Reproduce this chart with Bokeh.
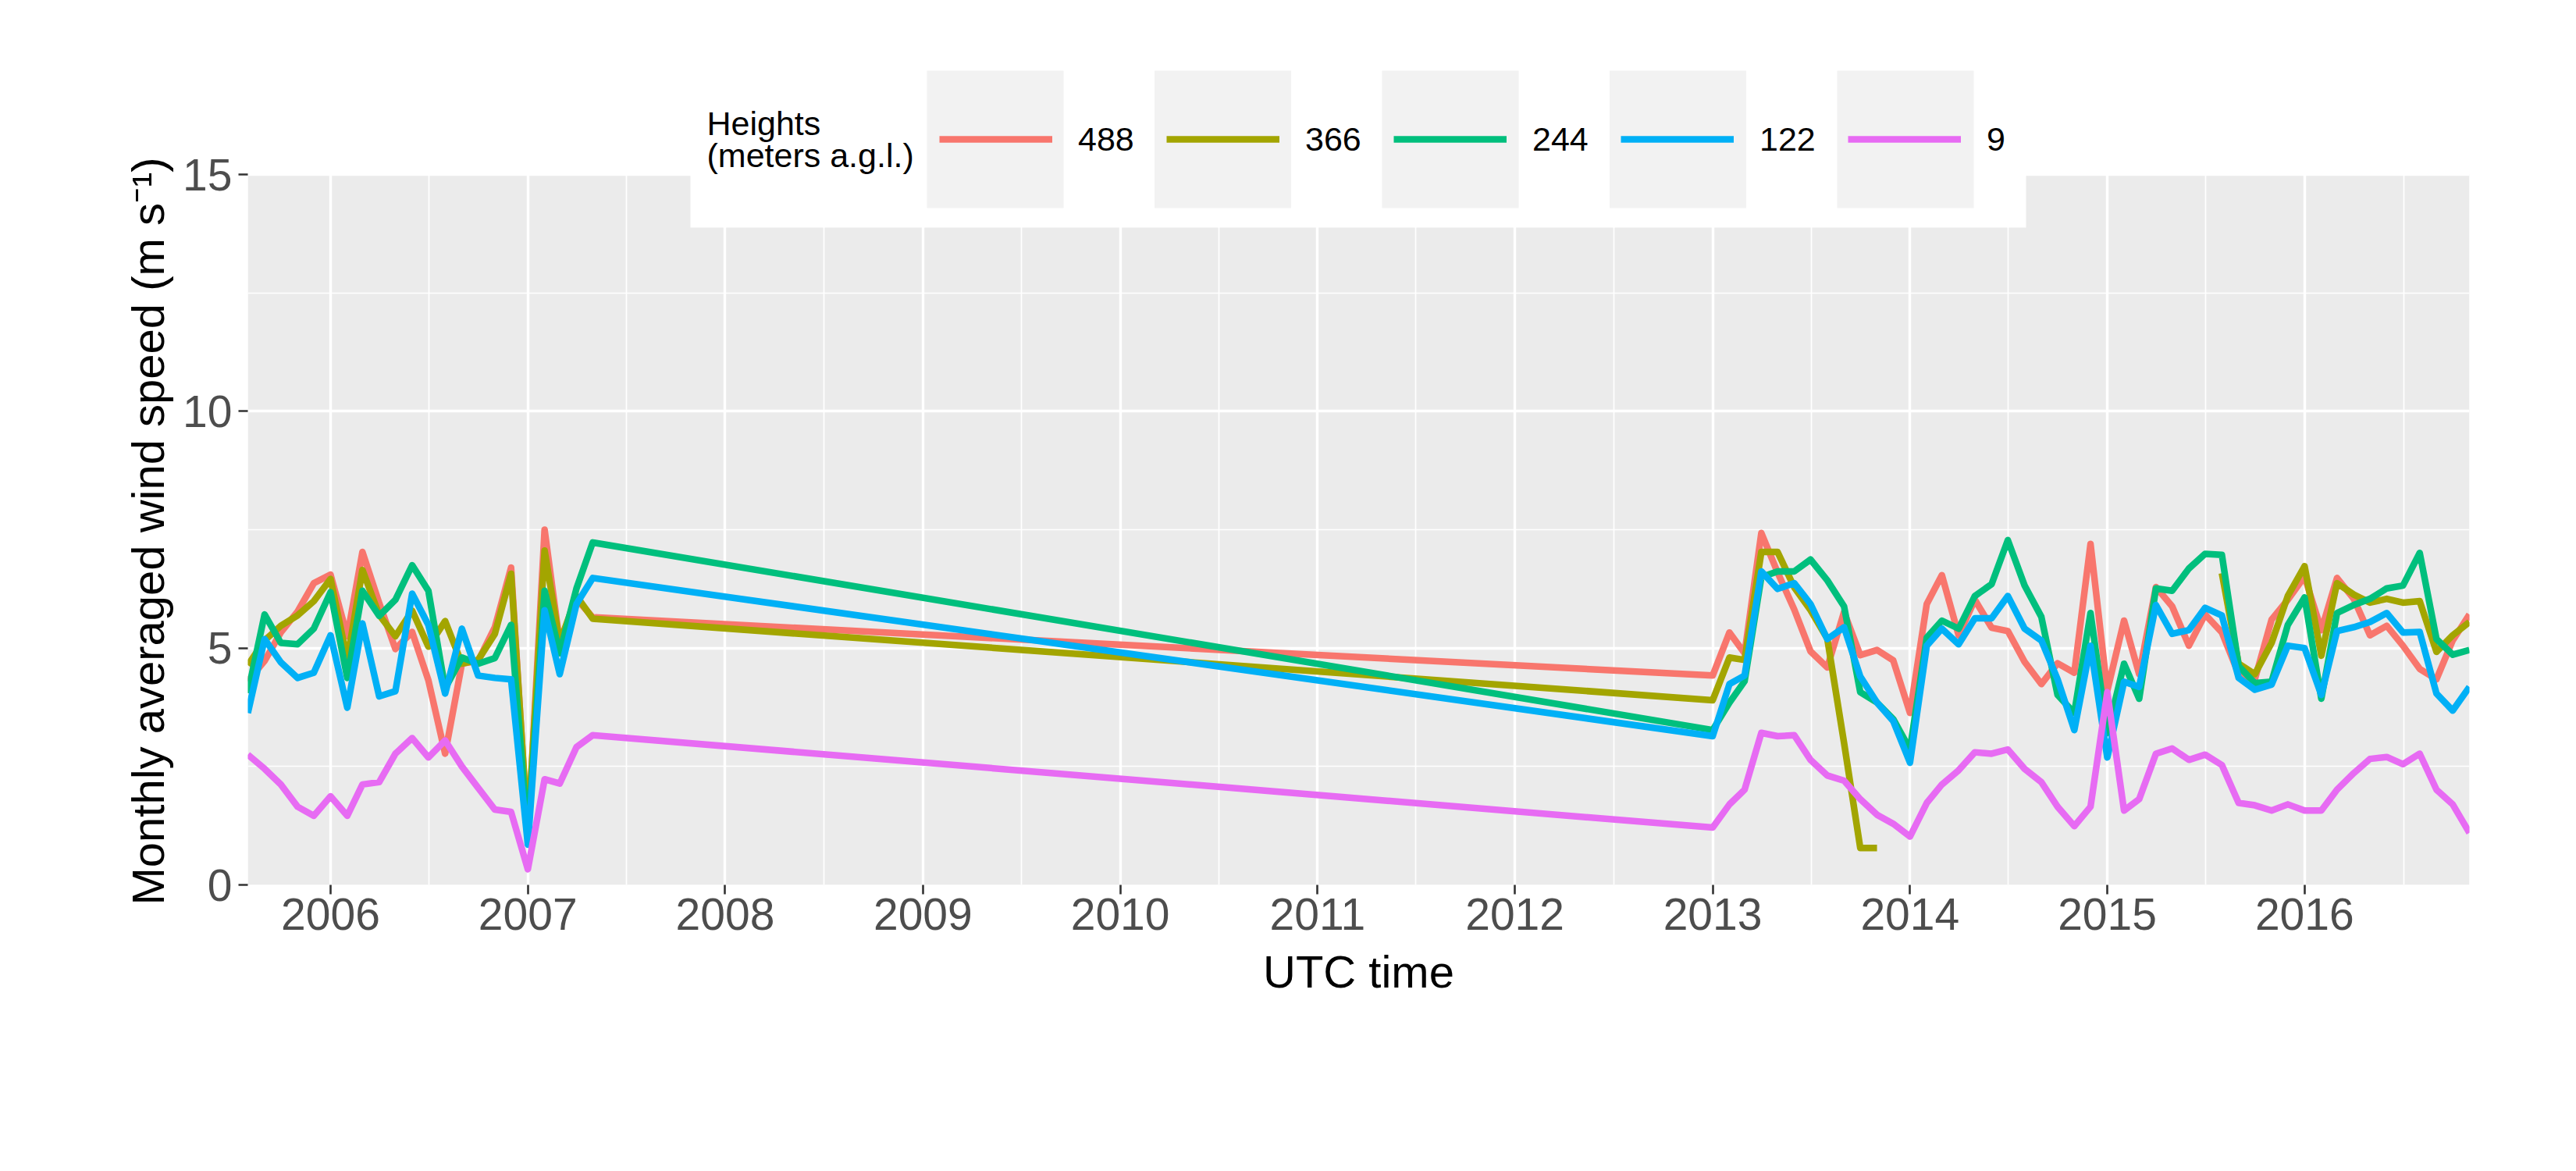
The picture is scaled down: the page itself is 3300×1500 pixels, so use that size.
import pandas as pd
from bokeh.plotting import figure
from bokeh.models import (Range1d, FixedTicker, DatetimeTickFormatter, Legend, LegendItem,
                          BoxAnnotation, Label, Title, ColumnDataSource)
from bokeh.embed import file_html
from bokeh.resources import INLINE

nan = float("nan")

# ---------------- data ----------------
period1 = pd.date_range("2005-08-01", "2007-05-01", freq="MS")   # 22 months
period2 = pd.date_range("2013-01-01", "2016-11-01", freq="MS")   # 47 months
months = period1.append(period2)

heights = ["488", "366", "244", "122", "9"]
colors = ["#F8766D", "#A3A500", "#00BF7D", "#00B0F6", "#E76BF3"]

ws_488 = [4.30, 4.73, 5.33, 5.77, 6.37, 6.55, 5.25, 7.03, 5.95, 4.98, 5.34, 4.32,
          2.77, 4.67, 4.73, 5.44, 6.70, 1.00, 7.50, 5.11, 6.04, 5.65,
          4.42, 5.33, 4.89, 7.43, 6.60, 5.81, 4.93, 4.59, 5.76, 4.85, 4.96, 4.74,
          3.63, 5.93, 6.54, 5.27, 6.02, 5.43, 5.36, 4.71, 4.24, 4.68, 4.48, 7.20,
          4.10, 5.58, 4.45, 6.29, 5.88, 5.05, 5.71, 5.33, 4.45, 4.34, 5.60, 6.02,
          6.51, 5.38, 6.48, 6.04, 5.27, 5.47, 5.05, 4.56, 4.34, 5.16, 5.71]
ws_366 = [4.64, 5.16, 5.47, 5.69, 5.99, 6.46, 4.75, 6.65, 5.70, 5.25, 5.79, 5.03,
          5.57, 4.67, 4.75, 5.30, 6.57, 1.10, 7.06, 5.11, 6.10, 5.62,
          3.90, 4.80, 4.75, 7.03, 7.03, 6.28, 5.80, 5.20, 3.00, 0.78, 0.78, nan,
          nan, nan, nan, nan, nan, nan, nan, nan, nan, nan, nan, nan,
          nan, nan, nan, nan, nan, nan, nan, 6.58, 4.67, 4.45, 5.11, 6.10,
          6.73, 4.84, 6.37, 6.13, 5.96, 6.04, 5.96, 5.99, 4.92, 5.27, 5.55]
ws_244 = [4.05, 5.71, 5.11, 5.08, 5.41, 6.18, 4.37, 6.21, 5.68, 6.02, 6.75, 6.21,
          4.15, 4.80, 4.67, 4.79, 5.49, 1.00, 6.21, 4.89, 6.26, 7.23,
          3.27, 3.85, 4.30, 6.50, 6.62, 6.62, 6.87, 6.43, 5.88, 4.07, 3.85, 3.50,
          2.86, 5.22, 5.58, 5.41, 6.10, 6.35, 7.28, 6.32, 5.66, 4.01, 3.63, 5.74,
          3.20, 4.67, 3.93, 6.26, 6.21, 6.68, 6.99, 6.97, 4.62, 4.26, 4.29, 5.49,
          6.07, 3.93, 5.74, 5.91, 6.04, 6.26, 6.32, 7.01, 5.19, 4.86, 4.96]
ws_122 = [3.63, 5.19, 4.70, 4.37, 4.48, 5.27, 3.74, 5.52, 3.98, 4.09, 6.15, 5.49,
          4.04, 5.41, 4.42, 4.37, 4.34, 0.85, 5.80, 4.45, 5.93, 6.48,
          3.14, 4.24, 4.42, 6.62, 6.25, 6.37, 5.93, 5.19, 5.44, 4.40, 3.85, 3.46,
          2.58, 5.05, 5.41, 5.08, 5.63, 5.63, 6.10, 5.41, 5.16, 4.34, 3.27, 5.05,
          2.69, 4.29, 4.18, 5.91, 5.30, 5.38, 5.85, 5.69, 4.37, 4.12, 4.23, 5.05,
          5.00, 4.01, 5.36, 5.44, 5.55, 5.74, 5.33, 5.34, 4.04, 3.68, 4.18]
ws_9 = [2.75, 2.45, 2.12, 1.65, 1.46, 1.87, 1.46, 2.12, 2.17, 2.77, 3.10, 2.69,
        3.05, 2.50, 2.05, 1.59, 1.54, 0.33, 2.23, 2.14, 2.91, 3.16,
        1.21, 1.70, 2.01, 3.21, 3.14, 3.16, 2.64, 2.31, 2.20, 1.81, 1.48, 1.29,
        1.02, 1.73, 2.12, 2.42, 2.80, 2.77, 2.86, 2.45, 2.17, 1.65, 1.24, 1.65,
        4.07, 1.57, 1.81, 2.77, 2.88, 2.64, 2.75, 2.53, 1.73, 1.68, 1.57, 1.70,
        1.57, 1.57, 2.01, 2.36, 2.66, 2.70, 2.55, 2.77, 2.01, 1.70, 1.10]

series = [ws_488, ws_366, ws_244, ws_122, ws_9]

year_ticks = list(range(2006, 2017))
y_ticks = [0, 5, 10, 15]
y_minor = [2.5, 7.5, 12.5]
Y_PANEL_TOP = 15

# ---------------- figure ----------------
W, H = 3300, 1500
# reference page pixels of the panel
P_LEFT, P_RIGHT, P_TOP, P_BOTTOM = 317, 3163, 223, 1133
FRAME_TOP = 88          # frame extended upward so that the top legend lies inside it
px_per_unit = (P_BOTTOM - P_TOP) / Y_PANEL_TOP
y_top = Y_PANEL_TOP + (P_TOP - FRAME_TOP) / px_per_unit

def ms(ts):
    return pd.Timestamp(ts).timestamp() * 1000.0

x0, x1 = ms(months[0]), ms(months[-1])
p = figure(width=W, height=H, x_axis_type="datetime", output_backend="svg",
           toolbar_location=None,
           x_range=Range1d(x0, x1), y_range=Range1d(0, y_top),
           min_border_left=P_LEFT, min_border_right=W - P_RIGHT,
           min_border_top=FRAME_TOP, min_border_bottom=H - P_BOTTOM)
p.background_fill_color = "white"
p.border_fill_color = "white"
p.outline_line_color = None

# grey panel (0..15) drawn beneath the grid
p.quad(left=[x0], right=[x1], bottom=[0], top=[Y_PANEL_TOP], fill_color="#EBEBEB",
       line_color=None, level="image")

x_major = [ms(f"{y}-01-01") for y in year_ticks]
x_minor = [ms(f"{y}-07-02") for y in range(2005, 2017)]
p.xaxis.ticker = FixedTicker(ticks=x_major, minor_ticks=x_minor)
p.yaxis.ticker = FixedTicker(ticks=y_ticks, minor_ticks=y_minor)
fmt = "%Y"
p.xaxis.formatter = DatetimeTickFormatter(years=fmt, months=fmt, days=fmt, hours=fmt,
                                          hourmin=fmt, minutes=fmt, minsec=fmt,
                                          seconds=fmt, milliseconds=fmt, microseconds=fmt)

for g in (p.xgrid[0], p.ygrid[0]):
    g.grid_line_color = "white"
    g.grid_line_width = 3.4
    g.minor_grid_line_color = "white"
    g.minor_grid_line_width = 1.7

FONT = "Liberation Sans"
for ax in (p.xaxis[0], p.yaxis[0]):
    ax.axis_line_color = None
    ax.major_tick_line_color = "#333333"
    ax.major_tick_line_width = 2.6
    ax.major_tick_out = 12
    ax.major_tick_in = 0
    ax.minor_tick_line_color = None
    ax.major_label_text_font = FONT
    ax.major_label_text_font_size = "57px"
    ax.major_label_text_color = "#4D4D4D"
    ax.axis_label_text_font = FONT
    ax.axis_label_text_font_size = "58px"
    ax.axis_label_text_font_style = "normal"
    ax.axis_label_text_color = "black"

p.xaxis.major_label_standoff = 5
p.yaxis.major_label_standoff = 8
p.xaxis.axis_label = "UTC time"
p.xaxis.axis_label_standoff = 18

# y-axis title, started near the panel bottom so that it is centred on the 0..15 panel
ytitle = Title(text="Monthly averaged wind speed (m s\u207b\u00b9)", align="left",
               offset=-26, standoff=20,
               text_font=FONT, text_font_size="58px", text_font_style="normal",
               text_color="black")
p.add_layout(ytitle, "left")

# ---------------- legend (ggplot style, top) ----------------
def sx(x):
    return x - P_LEFT

def sy(y):
    return P_BOTTOM - y

def screen_box(l, r, t, b, color):
    return BoxAnnotation(left=sx(l), right=sx(r), top=sy(t), bottom=sy(b),
                         left_units="screen", right_units="screen",
                         top_units="screen", bottom_units="screen",
                         fill_color=color, fill_alpha=1, line_color=None)

renderers = []
for name, vals, col in zip(heights, series, colors):
    src = ColumnDataSource(dict(x=months, y=vals))
    r = p.line("x", "y", source=src, line_color=col, line_width=8.5,
               line_join="round", line_cap="butt")
    renderers.append(r)

p.add_layout(screen_box(884, 2595, 80, 291, "white"))
for i in range(5):
    left = 1187 + i * 291.5
    p.add_layout(screen_box(left, left + 175, 90, 266, "#F2F2F2"))

for txt, mid in (("Heights", 157), ("(meters a.g.l.)", 198)):
    p.add_layout(Label(x=sx(905), y=sy(mid), x_units="screen", y_units="screen",
                       text=txt, text_font=FONT, text_font_size="43px",
                       text_color="black", text_baseline="middle", text_align="left"))

legend = Legend(items=[LegendItem(label=h, renderers=[r]) for h, r in zip(heights, renderers)],
                orientation="horizontal", location=(sx(1203), sy(266)),
                glyph_width=145, glyph_height=176, label_standoff=33, label_width=106,
                spacing=7, padding=0, margin=0, border_line_color=None,
                background_fill_alpha=0, label_text_font=FONT,
                label_text_font_size="43px", label_text_color="black")
p.add_layout(legend, "center")

open("out.html", "w").write(file_html(p, INLINE))
